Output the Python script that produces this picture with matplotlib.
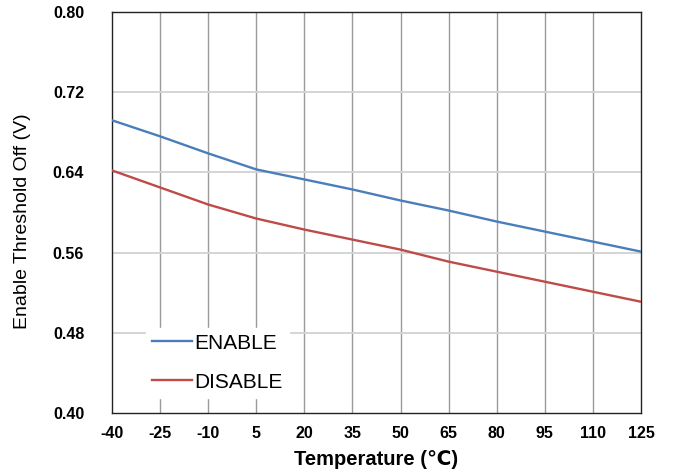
import matplotlib
matplotlib.use('Agg')
import matplotlib.pyplot as plt

plt.rcParams['font.family'] = ['Liberation Sans', 'DejaVu Sans']
plt.rcParams['axes.unicode_minus'] = False

# temperatura (C)
temps = [-40, -25, -10, 5, 20, 35, 50, 65, 80, 95, 110, 125]
# limiares (V)
enable_v = [0.692, 0.676, 0.659, 0.643, 0.633, 0.623, 0.612, 0.602, 0.591, 0.581, 0.571, 0.561]
disable_v = [0.642, 0.625, 0.608, 0.594, 0.583, 0.573, 0.563, 0.551, 0.541, 0.531, 0.521, 0.511]
y_ticks = [0.40, 0.48, 0.56, 0.64, 0.72, 0.80]

fig = plt.figure(figsize=(6.73, 4.73), dpi=100)
ax = fig.add_axes([0.1664, 0.1268, 0.786, 0.8478])

ax.plot(temps, enable_v, color='#4a7ebb', lw=1.7, label='ENABLE', zorder=3)
ax.plot(temps, disable_v, color='#be4b48', lw=1.7, label='DISABLE', zorder=3)

ax.set_xlim(-40, 125)
ax.set_ylim(0.40, 0.80)
ax.set_xticks(temps)
ax.set_yticks(y_ticks)
ax.set_yticklabels([f'{v:.2f}' for v in y_ticks])

# grade: verticais mais escuras, horizontais claras
for t in temps[1:-1]:
    ax.axvline(t, color='#9a9a9a', lw=1.0, zorder=1)
for v in y_ticks[1:-1]:
    ax.axhline(v, color='#d4d4d4', lw=1.4, zorder=1)

for s in ax.spines.values():
    s.set_color('#222222')
    s.set_linewidth(1.0)

ax.tick_params(length=0, labelsize=11.5)
ax.tick_params(axis='x', pad=9)
ax.tick_params(axis='y', pad=20)
for lab in ax.get_xticklabels() + ax.get_yticklabels():
    lab.set_fontweight('bold')

ax.set_xlabel('Temperature (℃)', fontsize=14.5, fontweight='bold', labelpad=7)
ax.set_ylabel('Enable Threshold Off (V)', fontsize=14)
ax.yaxis.set_label_coords(-0.153, 0.479)

leg = ax.legend(loc='lower left', bbox_to_anchor=(0.044, 0.012), fontsize=15,
                frameon=True, fancybox=False, handlelength=1.9, handletextpad=0.15,
                labelspacing=0.95, borderpad=0.3)
leg.get_frame().set_facecolor('white')
leg.get_frame().set_edgecolor('white')
leg.get_frame().set_alpha(1.0)
leg.set_zorder(4)

fig.savefig('out.png', dpi=100)
